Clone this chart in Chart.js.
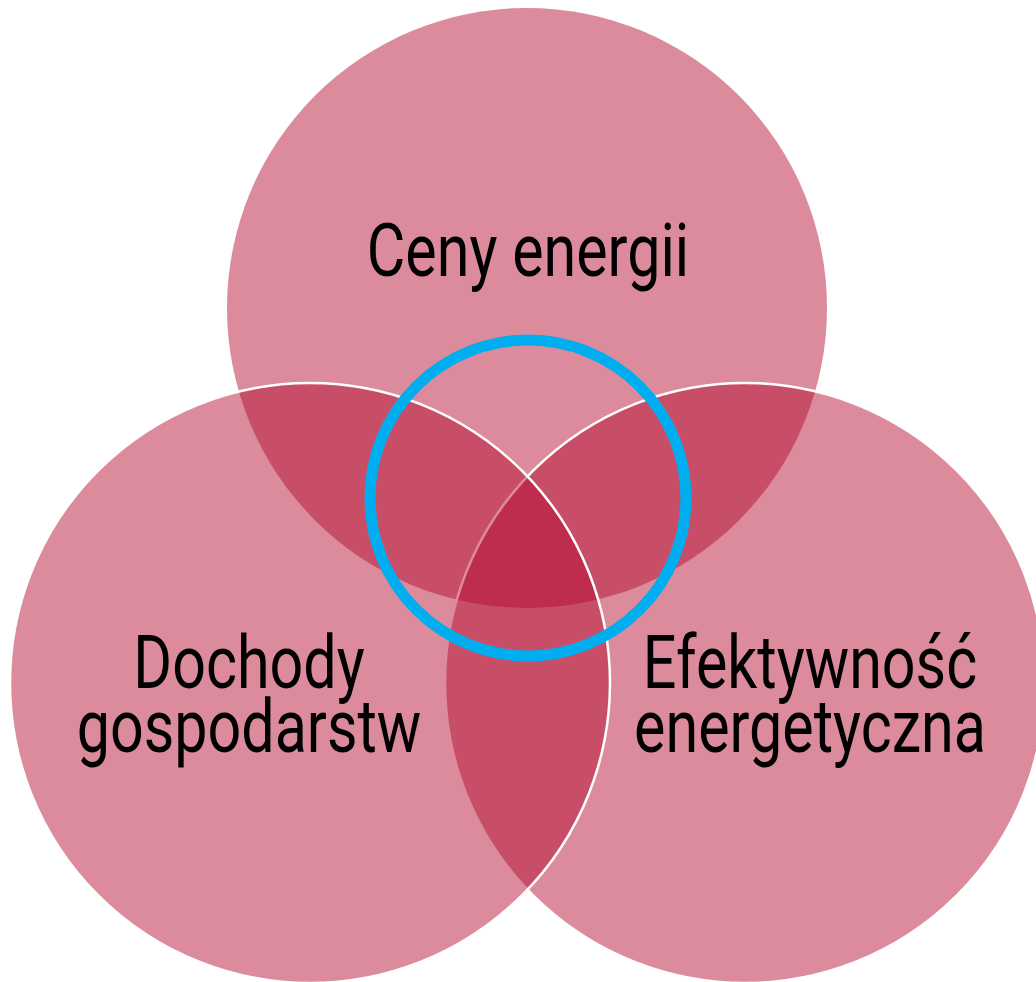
<!DOCTYPE html>
<html>
<head>
<meta charset="utf-8">
<script src="https://cdn.jsdelivr.net/npm/chart.js@4"></script>
<style>
	html, body { margin: 0; padding: 0; background: #fff; }
	#wrap { width: 1036px; height: 982px; }
</style>
</head>
<body>
<div id="wrap"><canvas id="venn"></canvas></div>
<script>
// circles of the diagram (x, y of centre, radius)
const circleNames = ['Ceny energii', 'Efektywność energetyczna', 'Dochody gospodarstw'];
const circleX = [527, 745, 310];
const circleY = [308, 683, 683];
const circleR = [300, 300, 300];

// the highlighted middle
const ringX = [528];
const ringY = [498];
const ringR = [158];

// text lines for every circle
const labelLines = [['Ceny energii'], ['Efektywność', 'energetyczna'], ['Dochody', 'gospodarstw']];

const fill = 'rgba(178, 8, 44, 0.47)';
const labelPos = [
	{ x: 528, y: 276 },
	{ x: 810, y: 688 },
	{ x: 249, y: 688 },
];

const labelsPlugin = {
	id: 'vennLabels',
	afterDatasetsDraw(chart) {
		const { ctx } = chart;
		const xs = chart.scales.x;
		const ys = chart.scales.y;
		ctx.save();
		ctx.fillStyle = '#000';
		ctx.font = '400 74px Roboto';
		ctx.textAlign = 'center';
		ctx.textBaseline = 'alphabetic';
		labelLines.forEach((lines, i) => {
			lines.forEach((line, j) => {
				const px = xs.getPixelForValue(labelPos[i].x);
				const py = ys.getPixelForValue(labelPos[i].y + j * 64);
				ctx.save();
				ctx.translate(px, py);
				ctx.scale(0.8, 1);
				ctx.fillText(line, 0, 0);
				ctx.restore();
			});
		});
		ctx.restore();
	},
};

// chart.js paints the first dataset last, so the ring comes first
// and the circles follow in reverse (left over right over top)
const datasets = [{
	label: 'ring',
	data: ringX.map((x, i) => ({ x: x, y: ringY[i], r: ringR[i] })),
	backgroundColor: 'rgba(0,0,0,0)',
	borderColor: '#00aeef',
	borderWidth: 11,
	clip: false,
}];

[2, 1, 0].forEach(i => {
	datasets.push({
		label: circleNames[i],
		data: [{ x: circleX[i], y: circleY[i], r: circleR[i] }],
		backgroundColor: fill,
		borderColor: '#fff',
		borderWidth: i === 0 ? 0 : 2.5,
		clip: false,
	});
});

new Chart(document.getElementById('venn'), {
	type: 'bubble',
	data: { datasets },
	options: {
		responsive: true,
		maintainAspectRatio: false,
		animation: false,
		events: [],
		layout: { padding: 0, autoPadding: false },
		plugins: {
			legend: { display: false },
			tooltip: { enabled: false },
		},
		scales: {
			x: { type: 'linear', min: 0, max: 1036, display: false },
			y: { type: 'linear', min: 0, max: 982, reverse: true, display: false },
		},
	},
	plugins: [labelsPlugin],
});
</script>
</body>
</html>
